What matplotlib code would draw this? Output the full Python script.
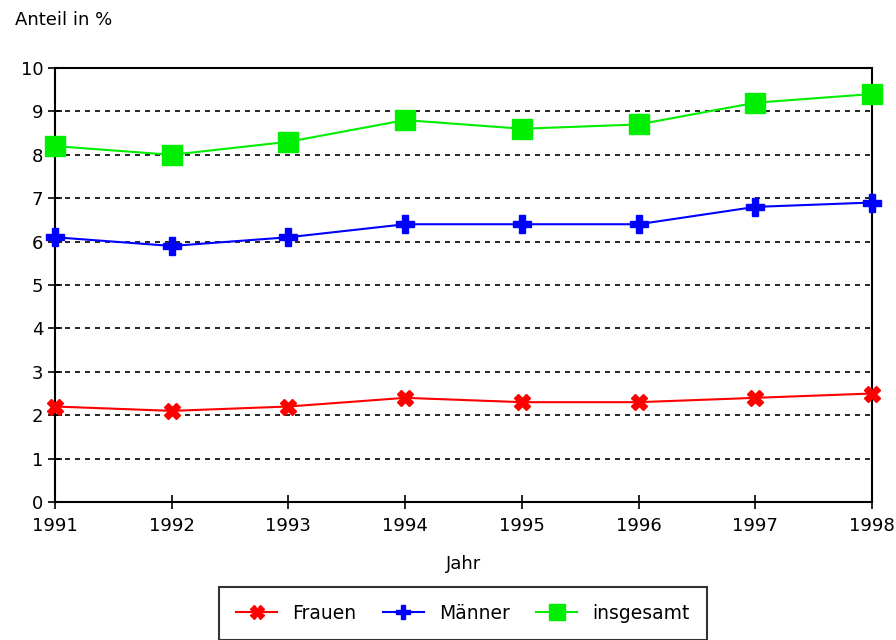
import matplotlib.pyplot as plt

# Anteil in % nach Jahr
jahre = [1991, 1992, 1993, 1994, 1995, 1996, 1997, 1998]
frauen = [2.2, 2.1, 2.2, 2.4, 2.3, 2.3, 2.4, 2.5]
maenner = [6.1, 5.9, 6.1, 6.4, 6.4, 6.4, 6.8, 6.9]
insgesamt = [8.2, 8.0, 8.3, 8.8, 8.6, 8.7, 9.2, 9.4]

fig = plt.figure(figsize=(8.96, 6.4), dpi=100)
ax = fig.add_axes([55 / 896, 1 - 502 / 640, 817 / 896, 434 / 640])

ax.plot(jahre, frauen, color='red', marker='X', markersize=12, lw=1.5,
        label='Frauen', clip_on=False, zorder=3)
ax.plot(jahre, maenner, color='blue', marker='P', markersize=13, lw=1.5,
        label='Männer', clip_on=False, zorder=3)
ax.plot(jahre, insgesamt, color='#00ee00', marker='s', markersize=14, lw=1.5,
        label='insgesamt', clip_on=False, zorder=3)

ax.set_xlim(1991, 1998)
ax.set_ylim(0, 10)
ax.set_xticks(jahre)
ax.set_yticks(range(0, 11))
ax.tick_params(direction='inout', length=10, width=1.2, labelsize=13)
ax.tick_params(axis='x', pad=6)
for s in ax.spines.values():
    s.set_linewidth(1.5)
ax.yaxis.grid(True, color='black', linestyle=(0, (3, 3)), lw=1.2)

fig.text(15 / 896, 1 - 20 / 640, 'Anteil in %', fontsize=13, va='center')
ax.set_xlabel('Jahr', fontsize=13, labelpad=14)

leg = ax.legend(loc='upper center', bbox_to_anchor=(463 / 896, 1 - 587 / 640),
                bbox_transform=fig.transFigure, ncol=3, fontsize=13.5,
                frameon=True, fancybox=False, edgecolor='black',
                borderpad=0.9, borderaxespad=0, columnspacing=1.4,
                handlelength=2.2, markerscale=0.8)
leg.get_frame().set_linewidth(1.5)

fig.savefig('out.png', dpi=100)
